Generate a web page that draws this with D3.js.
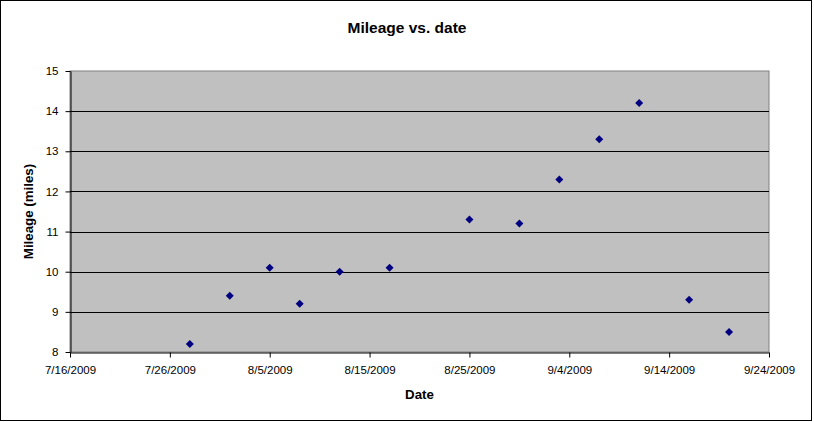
<!DOCTYPE html>
<html>
<head>
<meta charset="utf-8">
<script src="https://cdn.jsdelivr.net/npm/d3@7"></script>
<style>
	body { margin: 0; background: #fff; }
	text { font-family: "Liberation Sans", Arial, sans-serif; }
</style>
</head>
<body>
<svg id="chart"></svg>
<script>

// data
const dates = ["2009-07-28", "2009-08-01", "2009-08-05", "2009-08-08", "2009-08-12", "2009-08-17",
	"2009-08-25", "2009-08-30", "2009-09-03", "2009-09-07", "2009-09-11", "2009-09-16", "2009-09-20"];
const mileage = [8.2, 9.4, 10.1, 9.2, 10.0, 10.1, 11.3, 11.2, 12.3, 13.3, 14.2, 9.3, 8.5];
const xTickDates = ["2009-07-16", "2009-07-26", "2009-08-05", "2009-08-15", "2009-08-25",
	"2009-09-04", "2009-09-14", "2009-09-24"];
const yTicks = [8, 9, 10, 11, 12, 13, 14, 15];

var width = 814,
	height = 422,
	margin = { top: 71, right: 45, bottom: 70, left: 70 };

var parse = d3.timeParse("%Y-%m-%d"),
	fmt = d3.timeFormat("%-m/%-d/%Y");

var svg = d3.select("#chart")
	.attr("width", width)
	.attr("height", height);

// outer frame
svg.append("rect")
	.attr("x", 0.5).attr("y", 0.5)
	.attr("width", 811).attr("height", 420)
	.attr("fill", "#fff")
	.attr("stroke", "#000");

const x = d3.scaleTime()
	.domain([parse(xTickDates[0]), parse(xTickDates[xTickDates.length - 1])])
	.range([margin.left, width - margin.right]);

const y = d3.scaleLinear()
	.domain([8, 15])
	.range([height - margin.bottom, margin.top]);

// plot area
svg.append("rect")
	.attr("x", x.range()[0]).attr("y", y(15))
	.attr("width", x.range()[1] - x.range()[0])
	.attr("height", y(8) - y(15))
	.attr("fill", "#c0c0c0")
	.attr("stroke", "#808080");

// gridlines
svg.append("g")
	.selectAll("line")
	.data(yTicks.filter(d => d > 8 && d < 15))
	.join("line")
	.attr("x1", x.range()[0]).attr("x2", x.range()[1])
	.attr("y1", d => Math.round(y(d)) + 0.5)
	.attr("y2", d => Math.round(y(d)) + 0.5)
	.attr("stroke", "#000");

const xAxis = svg.append("g")
	.attr("transform", `translate(0,${Math.round(y(8)) + 0.5})`)
	.call(d3.axisBottom(x)
		.tickValues(xTickDates.map(parse))
		.tickFormat(fmt)
		.tickSize(5)
		.tickSizeOuter(0));

const yAxis = svg.append("g")
	.attr("transform", `translate(${x.range()[0] + 0.5},0)`)
	.call(d3.axisLeft(y)
		.tickValues(yTicks)
		.tickFormat(d3.format("d"))
		.tickSize(5)
		.tickSizeOuter(0));

[xAxis, yAxis].forEach(a => {
	a.selectAll("path, line").attr("stroke", "#000");
	a.selectAll("text")
		.attr("fill", "#000")
		.style("font-size", "11.5px")
		.style("font-family", "'Liberation Sans', Arial, sans-serif");
});
xAxis.selectAll("text").attr("dy", "1.15em");
yAxis.selectAll("text").attr("x", -12);

// points
const points = dates.map((d, i) => ({ date: parse(d), value: mileage[i] }));

svg.append("g")
	.selectAll("path")
	.data(points)
	.join("path")
	.attr("d", "M0,-4L4,0L0,4L-4,0Z")
	.attr("transform", d => `translate(${x(d.date)},${y(d.value)})`)
	.attr("fill", "#000080");

// titles
svg.append("text")
	.attr("x", 407).attr("y", 33)
	.attr("text-anchor", "middle")
	.style("font-size", "15.5px").style("font-weight", "bold")
	.text("Mileage vs. date");

svg.append("text")
	.attr("x", (x.range()[0] + x.range()[1]) / 2).attr("y", 399)
	.attr("text-anchor", "middle")
	.style("font-size", "13.3px").style("font-weight", "bold")
	.text("Date");

svg.append("text")
	.attr("transform", `translate(33,${(y(8) + y(15)) / 2}) rotate(-90)`)
	.attr("text-anchor", "middle")
	.style("font-size", "13.3px").style("font-weight", "bold")
	.text("Mileage (miles)");

</script>
</body>
</html>
